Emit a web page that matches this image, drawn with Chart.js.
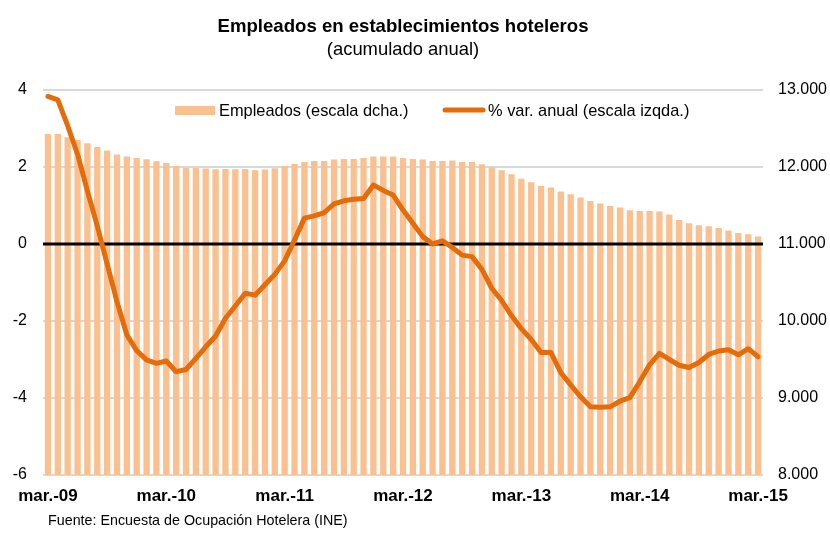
<!DOCTYPE html>
<html>
<head>
<meta charset="utf-8">
<script src="https://cdn.jsdelivr.net/npm/chart.js@4.4.1/dist/chart.umd.min.js"></script>
<style>
  html, body { margin: 0; padding: 0; background: #ffffff; }
  #wrap { width: 830px; height: 536px; position: relative; }
</style>
</head>
<body>
<div id="wrap"><canvas id="c" width="830" height="536"></canvas></div>
<script>
const titleText = "Empleados en establecimientos hoteleros";
const subtitleText = "(acumulado anual)";
const sourceText = "Fuente: Encuesta de Ocupación Hotelera (INE)";

const categories = [
  "mar.-09","abr.-09","may.-09","jun.-09","jul.-09","ago.-09","sep.-09","oct.-09","nov.-09","dic.-09","ene.-10","feb.-10",
  "mar.-10","abr.-10","may.-10","jun.-10","jul.-10","ago.-10","sep.-10","oct.-10","nov.-10","dic.-10","ene.-11","feb.-11",
  "mar.-11","abr.-11","may.-11","jun.-11","jul.-11","ago.-11","sep.-11","oct.-11","nov.-11","dic.-11","ene.-12","feb.-12",
  "mar.-12","abr.-12","may.-12","jun.-12","jul.-12","ago.-12","sep.-12","oct.-12","nov.-12","dic.-12","ene.-13","feb.-13",
  "mar.-13","abr.-13","may.-13","jun.-13","jul.-13","ago.-13","sep.-13","oct.-13","nov.-13","dic.-13","ene.-14","feb.-14",
  "mar.-14","abr.-14","may.-14","jun.-14","jul.-14","ago.-14","sep.-14","oct.-14","nov.-14","dic.-14","ene.-15","feb.-15",
  "mar.-15"
];

const tickLabels = ["mar.-09","mar.-10","mar.-11","mar.-12","mar.-13","mar.-14","mar.-15"];

const empleados = [
  12429,12429,12386,12351,12307,12260,12212,12160,12134,12117,12100,12074,
  12052,12013,11987,11987,11978,11970,11974,11970,11974,11957,11965,11983,
  12013,12039,12065,12078,12078,12095,12104,12104,12117,12134,12134,12134,
  12117,12104,12095,12078,12078,12082,12065,12065,12035,11996,11957,11905,
  11848,11801,11753,11732,11680,11645,11602,11559,11524,11494,11472,11437,
  11429,11429,11420,11381,11312,11269,11243,11230,11208,11173,11143,11126,
  11095
];

const varAnual = [
  3.83,3.74,3.07,2.33,1.38,0.47,-0.52,-1.50,-2.36,-2.77,-3.01,-3.10,
  -3.04,-3.32,-3.26,-2.97,-2.67,-2.39,-1.93,-1.61,-1.28,-1.33,-1.06,-0.79,
  -0.44,0.10,0.67,0.73,0.81,1.04,1.12,1.16,1.18,1.53,1.39,1.27,
  0.88,0.54,0.19,0.00,0.08,-0.09,-0.29,-0.33,-0.66,-1.15,-1.47,-1.86,
  -2.20,-2.48,-2.82,-2.82,-3.34,-3.66,-3.97,-4.23,-4.24,-4.23,-4.08,-3.99,
  -3.58,-3.14,-2.84,-3.00,-3.15,-3.21,-3.08,-2.87,-2.78,-2.75,-2.88,-2.72,
  -2.93
];

const leftTicks = { min: -6, max: 4, step: 2 };
const rightTicks = { min: 8000, max: 13000, step: 1000 };

const BAR_COLOR = "#FAC090";
const LINE_COLOR = "#E46C0A";
const FONT = "'Liberation Sans', Arial, Helvetica, sans-serif";

const overlayPlugin = {
  id: "overlay",
  afterDatasetDraw(chart, args) {
    if (args.index !== 0) return;
    const ctx = chart.ctx;
    const ca = chart.chartArea;
    const y0 = chart.scales.yL.getPixelForValue(0);
    ctx.save();
    ctx.strokeStyle = "#000000";
    ctx.lineWidth = 3;
    ctx.beginPath();
    ctx.moveTo(ca.left, y0);
    ctx.lineTo(ca.right, y0);
    ctx.stroke();
    ctx.restore();
  },
  afterDraw(chart) {
    const ctx = chart.ctx;
    const ds = chart.data.datasets;
    ctx.save();
    // legend
    ctx.font = "16.4px " + FONT;
    ctx.textBaseline = "middle";
    ctx.textAlign = "left";
    ctx.fillStyle = BAR_COLOR;
    ctx.fillRect(175, 106, 40, 9);
    ctx.fillStyle = "#000";
    ctx.fillText(ds[0].label, 219, 111);
    ctx.strokeStyle = LINE_COLOR;
    ctx.lineWidth = 5;
    ctx.lineCap = "round";
    ctx.beginPath();
    ctx.moveTo(445, 110);
    ctx.lineTo(483, 110);
    ctx.stroke();
    ctx.fillText(ds[1].label, 488, 111);
    // source
    ctx.font = "14.3px " + FONT;
    ctx.fillText(sourceText, 48, 521);
    ctx.restore();
  }
};

new Chart(document.getElementById("c"), {
  data: {
    labels: categories,
    datasets: [
      {
        type: "bar",
        label: "Empleados (escala dcha.)",
        data: empleados,
        backgroundColor: BAR_COLOR,
        borderWidth: 0,
        yAxisID: "yR",
        barPercentage: 0.64,
        categoryPercentage: 1.0,
        order: 1
      },
      {
        type: "line",
        label: "% var. anual (escala izqda.)",
        data: varAnual,
        borderColor: LINE_COLOR,
        backgroundColor: LINE_COLOR,
        borderWidth: 5,
        pointRadius: 0,
        tension: 0,
        borderJoinStyle: "round",
        borderCapStyle: "round",
        yAxisID: "yL",
        order: 0
      }
    ]
  },
  options: {
    responsive: false,
    animation: false,
    layout: { padding: { left: 0, right: 0, top: 0, bottom: 0 } },
    plugins: {
      legend: { display: false },
      tooltip: { enabled: false },
      title: {
        display: true,
        fullSize: false,
        text: titleText,
        color: "#000",
        font: { family: FONT, size: 18.6, weight: "bold", lineHeight: 1.2 },
        padding: { top: 16, bottom: 0 }
      },
      subtitle: {
        display: true,
        fullSize: false,
        text: subtitleText,
        color: "#000",
        font: { family: FONT, size: 18.4, weight: "normal", lineHeight: 1.2 },
        padding: { top: 1, bottom: 28.5 }
      }
    },
    scales: {
      x: {
        type: "category",
        offset: true,
        grid: { display: false, drawTicks: false },
        border: { display: false },
        ticks: {
          autoSkip: false,
          maxRotation: 0,
          minRotation: 0,
          padding: 11,
          color: "#000",
          font: { family: FONT, size: 17, weight: "bold" },
          callback: function (val, idx) {
            const lab = categories[idx];
            return tickLabels.includes(lab) ? lab : "";
          }
        },
        afterFit: function (scale) { scale.height = 61; }
      },
      yL: {
        type: "linear",
        position: "left",
        min: leftTicks.min,
        max: leftTicks.max,
        border: { display: false },
        grid: {
          drawTicks: false,
          color: function (c) { return c.tick && c.tick.value === 0 ? "rgba(0,0,0,0)" : "#D9D9D9"; },
          lineWidth: 2
        },
        ticks: {
          stepSize: leftTicks.step,
          padding: 16,
          color: "#000",
          font: { family: FONT, size: 16 }
        },
        afterFit: function (scale) { scale.width = 43; }
      },
      yR: {
        type: "linear",
        position: "right",
        min: rightTicks.min,
        max: rightTicks.max,
        border: { display: false },
        grid: { display: false, drawTicks: false },
        ticks: {
          stepSize: rightTicks.step,
          padding: 15,
          color: "#000",
          font: { family: FONT, size: 16 },
          callback: function (v) { return v.toLocaleString("de-DE"); }
        },
        afterFit: function (scale) { scale.width = 67; }
      }
    }
  },
  plugins: [overlayPlugin]
});
</script>
</body>
</html>
